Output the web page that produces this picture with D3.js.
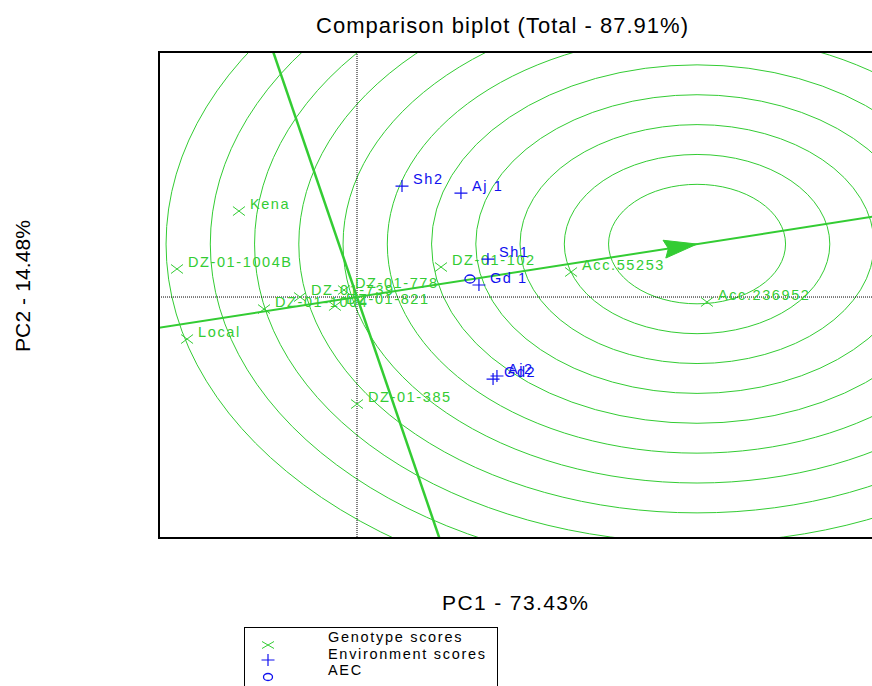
<!DOCTYPE html>
<html>
<head>
<meta charset="utf-8">
<script src="https://cdn.jsdelivr.net/npm/d3@7"></script>
<style>
  html, body { margin: 0; padding: 0; background: #fff; }
  svg { display: block; font-family: Arial, "Liberation Sans", sans-serif; }
</style>
</head>
<body>
<div id="chart"></div>
<script>
// ---- data ----
const titleText = "Comparison biplot (Total - 87.91%)";
const xTitle = "PC1 - 73.43%";
const yTitle = "PC2 - 14.48%";

const genotypes = ["Kena", "DZ-01-1004B", "Local", "DZ-01-1004", "DZ-01-739", "DZ-01-778",
                   "DZ-01-821", "DZ-01-385", "DZ-01-102", "Acc.55253", "Acc.236952"];
const genoPC1 = [-0.787, -1.200, -1.133, -0.620, -0.380, -0.087, -0.147, 0.000, 0.560, 1.427, 2.333];
const genoPC2 = [0.849, 0.277, -0.415, -0.119, 0.000, 0.069, -0.089, -1.057, 0.296, 0.247, -0.049];

const environments = ["Sh2", "Aj 1", "Sh1", "Gd 1", "Aj2", "Gd2"];
const envPC1 = [0.300, 0.693, 0.873, 0.813, 0.933, 0.907];
const envPC2 = [1.096, 1.027, 0.375, 0.119, -0.780, -0.810];

const aecPoint = [0.753, 0.178];     // average environment (AEC circle)
const idealPoint = [2.267, 0.523];   // arrow tip / centre of concentric rings
const ringStep = 0.295;
const ringIndex = [2, 3, 4, 5, 6, 7, 8, 9, 10, 11, 12];

const legendLabels = ["Genotype scores", "Environment scores", "AEC"];

// ---- layout ----
const W = 872, H = 686;
const plot = { left: 159, top: 52, bottom: 538, right: 900 };
const green = "#33cc33", blue = "#1010ee";

const svg = d3.select("#chart").append("svg").attr("width", W).attr("height", H);

const x = d3.scaleLinear().domain([-1.32, 3.62]).range([plot.left, plot.right]);
const y = d3.scaleLinear().domain([-2.38, 2.42]).range([plot.bottom, plot.top]);

svg.append("defs").append("clipPath").attr("id", "clip")
  .append("rect").attr("x", plot.left).attr("y", plot.top)
  .attr("width", plot.right - plot.left).attr("height", plot.bottom - plot.top);

const g = svg.append("g").attr("clip-path", "url(#clip)");

// concentric rings (circles in data space)
g.selectAll("ellipse.ring").data(ringIndex).enter().append("ellipse")
  .attr("class", "ring")
  .attr("cx", x(idealPoint[0])).attr("cy", y(idealPoint[1]))
  .attr("rx", k => x(k * ringStep) - x(0))
  .attr("ry", k => y(0) - y(k * ringStep))
  .attr("fill", "none").attr("stroke", green).attr("stroke-width", 1);

// dotted axes through origin
g.append("line").attr("x1", plot.left).attr("x2", plot.right)
  .attr("y1", y(0)).attr("y2", y(0))
  .attr("stroke", "#000").attr("stroke-width", 1).attr("stroke-dasharray", "1,1");
g.append("line").attr("x1", x(0)).attr("x2", x(0))
  .attr("y1", plot.top).attr("y2", plot.bottom)
  .attr("stroke", "#000").attr("stroke-width", 1).attr("stroke-dasharray", "1,1");

// AEC abscissa (through origin and ideal point)
const t = 10;
g.append("line")
  .attr("x1", x(-t * idealPoint[0])).attr("y1", y(-t * idealPoint[1]))
  .attr("x2", x(t * idealPoint[0])).attr("y2", y(t * idealPoint[1]))
  .attr("stroke", green).attr("stroke-width", 2);
// AEC ordinate (perpendicular in data space)
g.append("line")
  .attr("x1", x(-t * idealPoint[1])).attr("y1", y(t * idealPoint[0]))
  .attr("x2", x(t * idealPoint[1])).attr("y2", y(-t * idealPoint[0]))
  .attr("stroke", green).attr("stroke-width", 2.5);

// arrow head at ideal point
{
  const tx = x(idealPoint[0]), ty = y(idealPoint[1]);
  const ox = x(0), oy = y(0);
  const L = Math.hypot(tx - ox, ty - oy);
  const ux = (tx - ox) / L, uy = (ty - oy) / L;
  const len = 33, hw = 9;
  const bx = tx - ux * len, by = ty - uy * len;
  const pts = [[tx, ty], [bx - uy * hw, by + ux * hw], [bx + ux * 4, by + uy * 4], [bx + uy * hw, by - ux * hw]];
  g.append("polygon").attr("points", pts.map(p => p.join(",")).join(" "))
    .attr("fill", green).attr("stroke", green).attr("stroke-width", 1);
}

// genotype markers (x)
const gx = 6, gy = 4.5;
genotypes.forEach((name, i) => {
  const px = x(genoPC1[i]), py = y(genoPC2[i]);
  g.append("path")
    .attr("d", `M${px - gx},${py - gy}L${px + gx},${py + gy}M${px - gx},${py + gy}L${px + gx},${py - gy}`)
    .attr("stroke", green).attr("stroke-width", 1).attr("fill", "none");
  g.append("text").attr("x", px + 11).attr("y", py - 2)
    .attr("fill", green).attr("font-size", 14.5).style("letter-spacing", "1.6px")
    .text(name);
});

// environment markers (+)
environments.forEach((name, i) => {
  const px = x(envPC1[i]), py = y(envPC2[i]);
  g.append("path")
    .attr("d", `M${px - 6.5},${py}L${px + 6.5},${py}M${px},${py - 6}L${px},${py + 6}`)
    .attr("stroke", blue).attr("stroke-width", 1.2).attr("fill", "none");
  g.append("text").attr("x", px + 11).attr("y", py - 2)
    .attr("fill", blue).attr("font-size", 14.5).style("letter-spacing", "1.6px")
    .text(name);
});

// AEC circle
g.append("ellipse").attr("cx", x(aecPoint[0])).attr("cy", y(aecPoint[1]))
  .attr("rx", 5).attr("ry", 4).attr("fill", "none").attr("stroke", blue).attr("stroke-width", 1.3);

// frame (left, top, bottom)
svg.append("path")
  .attr("d", `M${plot.right},${plot.top}H${plot.left}V${plot.bottom}H${plot.right}`)
  .attr("fill", "none").attr("stroke", "#000").attr("stroke-width", 2);

// titles
svg.append("text").attr("x", 316).attr("y", 33)
  .attr("font-size", 22).attr("textLength", 372).attr("lengthAdjust", "spacing")
  .attr("fill", "#000").text(titleText);
svg.append("text").attr("x", 442).attr("y", 610)
  .attr("font-size", 21).attr("textLength", 146).attr("lengthAdjust", "spacing")
  .attr("fill", "#000").text(xTitle);
svg.append("text").attr("transform", "translate(30,352) rotate(-90)")
  .attr("x", 0).attr("y", 0)
  .attr("font-size", 21).attr("textLength", 132).attr("lengthAdjust", "spacing")
  .attr("fill", "#000").text(yTitle);

// legend
const lg = svg.append("g");
lg.append("rect").attr("x", 244.5).attr("y", 627.5).attr("width", 253).attr("height", 80)
  .attr("fill", "#fff").attr("stroke", "#000").attr("stroke-width", 1);
const ly = [645, 660, 677];
lg.append("path")
  .attr("d", `M${268 - gx},${ly[0] - 3.5}L${268 + gx},${ly[0] + 3.5}M${268 - gx},${ly[0] + 3.5}L${268 + gx},${ly[0] - 3.5}`)
  .attr("stroke", green).attr("stroke-width", 1);
lg.append("path")
  .attr("d", `M${268 - 6.5},${ly[1]}L${268 + 6.5},${ly[1]}M268,${ly[1] - 6}L268,${ly[1] + 6}`)
  .attr("stroke", blue).attr("stroke-width", 1.2);
lg.append("ellipse").attr("cx", 268).attr("cy", ly[2]).attr("rx", 4.5).attr("ry", 3.5)
  .attr("fill", "none").attr("stroke", blue).attr("stroke-width", 1.3);
legendLabels.forEach((s, i) => {
  lg.append("text").attr("x", 328).attr("y", [642, 659, 675][i])
    .attr("font-size", 14.5).style("letter-spacing", "1.7px").attr("fill", "#000").text(s);
});
</script>
</body>
</html>
